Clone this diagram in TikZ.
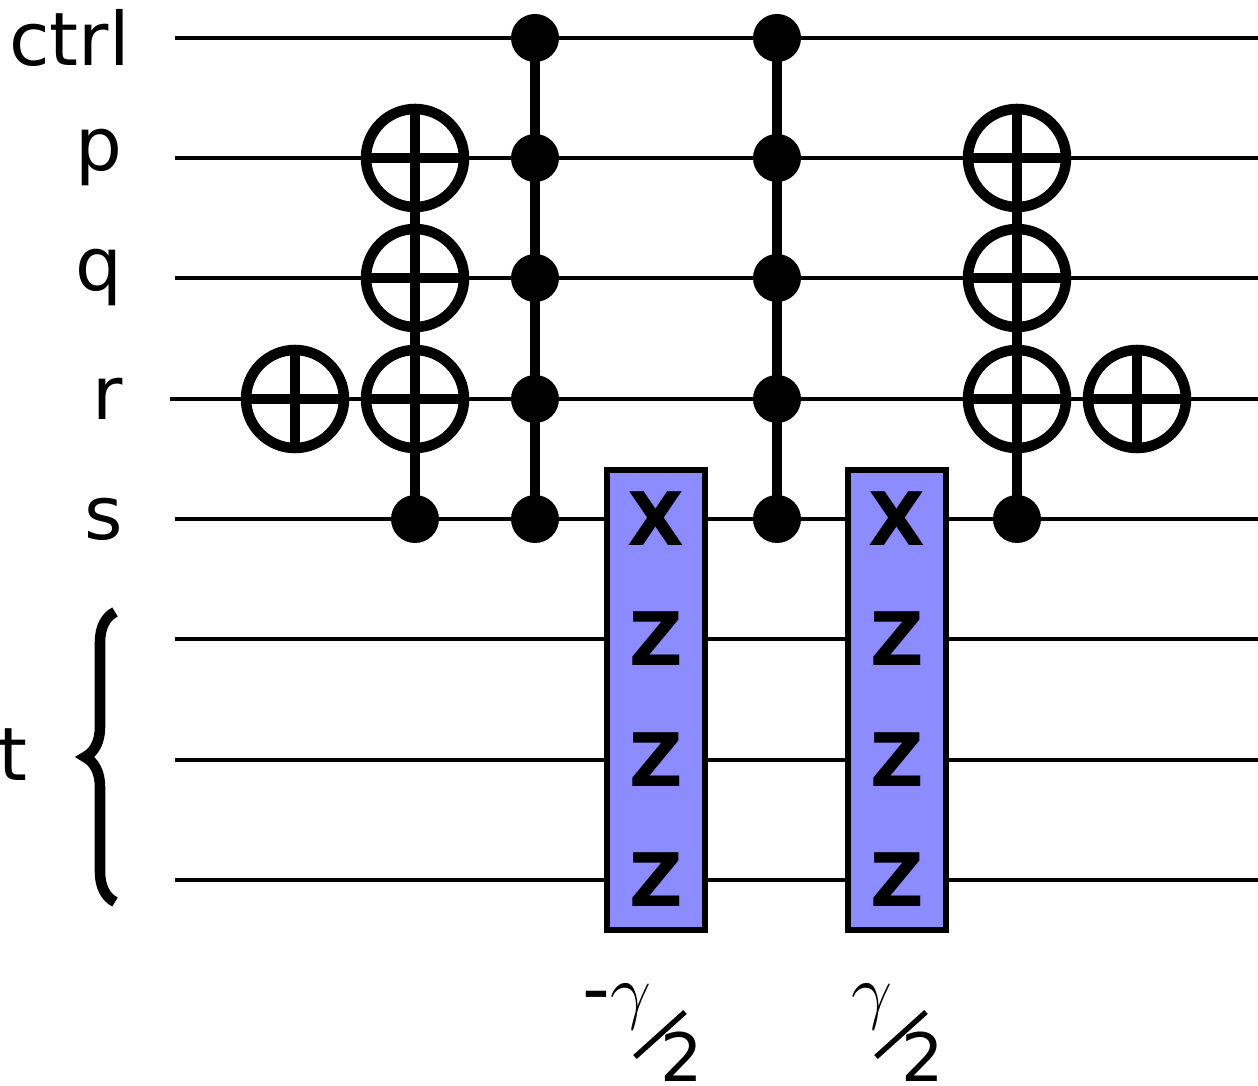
\documentclass[tikz,border=0pt]{standalone}
\usepackage{fontspec}
\setmainfont{DejaVu Sans}
\usetikzlibrary{decorations.pathreplacing}
\tikzset{
	wire/.style={line width=1.2pt},
	ctl/.style={circle, fill=black, inner sep=0pt, minimum size=0.48cm},
	targ/.style={circle, draw, line width=3pt, fill=white, inner sep=0pt, minimum size=0.98cm,
		path picture={\draw[line width=3pt] (path picture bounding box.north) -- (path picture bounding box.south) (path picture bounding box.west) -- (path picture bounding box.east);}},
	pauli/.style={draw, line width=1.6pt, fill=blue!45!white, minimum width=0.98cm, minimum height=4.6cm, inner sep=0pt},
	lbl/.style={font=\fontsize{21}{25}\selectfont, anchor=east}
}
\begin{document}
\begin{tikzpicture}
	\useasboundingbox (0,0) rectangle (12.58,-10.86);
	% wires
	\foreach \n/\y in {ctrl/0.38, p/1.58, q/2.78, r/3.99, s/5.19, ta/6.39, tb/7.60, tc/8.80}{
		\coordinate (\n) at (0,-\y);
		\draw[wire] (1.75,-\y) -- (12.58,-\y);
	}
	\draw[wire] (1.70,-3.99) -- (1.75,-3.99);
	% Beschriftung
	\node[lbl] at (1.42,-0.38) {ctrl};
	\foreach \n in {p,q,r,s}
		\node[lbl] at ([xshift=1.35cm]\n) {\n};
	\node[lbl] at (0.40,-7.55) {t};
	\draw[line width=3pt, decorate, decoration={brace, amplitude=0.3cm}]
		(1.15,-9.02) -- (1.15,-6.12);
	% CNOT r
	\node[targ] (x1) at (2.95,-3.99) {};
	% Toffoli p,q,r <- s
	\draw[line width=2.6pt] (4.15,-1.58) -- (4.15,-5.19);
	\foreach \n/\y in {p/1.58, q/2.78, r/3.99}
		\node[targ] (a\n) at (4.15,-\y) {};
	\node[ctl] (as) at (4.15,-5.19) {};
	% kontrollierte Phase
	\foreach \c/\x in {b/5.35, d/7.77}{
		\draw[line width=2.6pt] (\x,-0.38) -- (\x,-5.19);
		\foreach \n/\y in {ctrl/0.38, p/1.58, q/2.78, r/3.99, s/5.19}
			\node[ctl] (\c\n) at (\x,-\y) {};
	}
	% Pauli-Rotationen
	\foreach \c/\x/\t in {c/6.56/{-$\gamma$}, e/8.97/{$\gamma$}}{
		\node[pauli] (\c box) at (\x,-7.00) {};
		\foreach \l/\y in {X/5.19, Z/6.39, Z/7.60, Z/8.80}
			\node[font=\fontsize{21}{24}\selectfont\bfseries] at (\x,-\y) {\l};
		\node[font=\fontsize{22}{24}\selectfont, anchor=south east] at ([xshift=0.08cm]\x,-10.42) {\t};
		\draw[line width=1.5pt] ([xshift=-0.21cm]\x,-10.57) -- ([xshift=0.29cm]\x,-10.12);
		\node[font=\fontsize{19}{22}\selectfont, inner sep=0pt] at ([xshift=0.26cm]\x,-10.57) {2};
	}
	% Toffoli zurueck
	\draw[line width=2.6pt] (10.17,-1.58) -- (10.17,-5.19);
	\foreach \n/\y in {p/1.58, q/2.78, r/3.99}
		\node[targ] (f\n) at (10.17,-\y) {};
	\node[ctl] (fs) at (10.17,-5.19) {};
	\node[targ] (x2) at (11.37,-3.99) {};
\end{tikzpicture}
\end{document}
